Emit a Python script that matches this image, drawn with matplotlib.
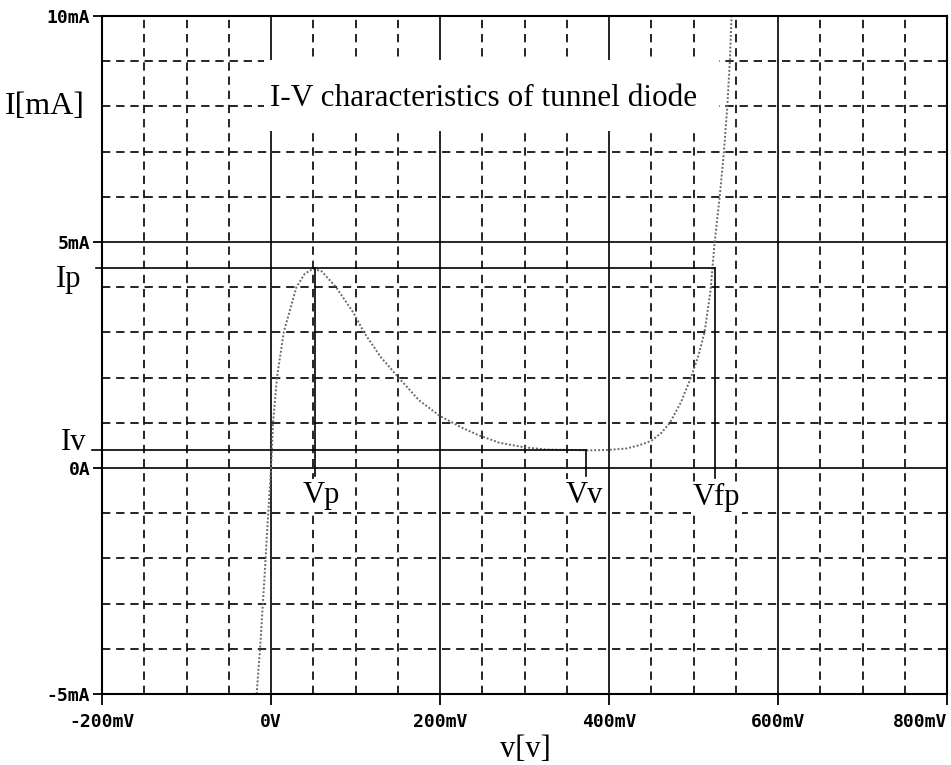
import matplotlib.pyplot as plt
from matplotlib.patches import Rectangle

# tunnel diode I-V curve (mV, mA)
curve_v = [-17, -13, -8, -4, 0, 1, 2.4, 7, 15, 30, 40, 50, 60, 77, 98, 110, 130,
           151, 175, 200, 225, 245, 270, 299, 325, 348, 375, 399, 420, 435, 450,
           462, 472, 485, 497, 506, 513, 520, 525, 531, 536, 540, 543, 545]
curve_i = [-5.0, -4.0, -2.5, -1.2, 0.0, 0.4, 1.0, 2.0, 3.0, 4.0, 4.3, 4.41, 4.35,
           4.0, 3.42, 3.0, 2.45, 2.0, 1.5, 1.15, 0.9, 0.73, 0.56, 0.46, 0.41, 0.40,
           0.39, 0.40, 0.43, 0.5, 0.6, 0.78, 1.0, 1.45, 2.0, 2.5, 3.0, 3.9, 5.0,
           6.0, 7.0, 8.0, 9.0, 10.0]

vp, ip = 52, 4.42
vv, iv = 373, 0.40
vfp = 526

x_ticks = [-200, 0, 200, 400, 600, 800]
x_labels = ["-200mV", "0V", "200mV", "400mV", "600mV", "800mV"]
y_ticks = [-5, 0, 5, 10]
y_labels = ["-5mA", "0A", "5mA", "10mA"]

fig = plt.figure(figsize=(9.51, 7.65), dpi=100)
ax = fig.add_axes([0.1073, 0.0928, 0.8885, 0.8863])
ax.set_xlim(-200, 800)
ax.set_ylim(-5, 10)

mono = {"family": "DejaVu Sans Mono", "weight": "bold", "size": 13}
serif = {"family": "Liberation Serif", "size": 22}

ax.set_xticks(x_ticks)
ax.set_xticklabels(x_labels, fontdict=mono)
ax.get_xticklabels()[-1].set_horizontalalignment("right")
ax.set_yticks(y_ticks)
ax.set_yticklabels(y_labels, fontdict=mono)
ax.set_xticks(range(-200, 801, 50), minor=True)
ax.set_yticks(range(-5, 11), minor=True)
ax.tick_params(axis="x", which="major", length=8, width=1.3, pad=6)
ax.tick_params(axis="y", which="major", length=6.5, width=1.3, pad=2)
ax.tick_params(which="minor", length=0)

ax.set_axisbelow(True)
ax.grid(which="major", color="black", lw=1.2, ls="-")
ax.grid(which="minor", color="black", lw=1.2, ls=(0, (5, 3.5)))
for s in ax.spines.values():
    s.set_linewidth(1.5)

# white box behind the title
ax.add_patch(Rectangle((-8, 7.45), 538, 1.57, fc="white", ec="none", zorder=1.5))
ax.text(252, 8.0, "I-V characteristics of tunnel diode", ha="center",
        va="baseline", fontdict={"family": "Liberation Serif", "size": 22.5}, zorder=3)

ax.plot(curve_v, curve_i, color="#6a6a6a", lw=1.4, ls=(0, (1, 1)), zorder=2)

# marker lines
ax.plot([-207, vfp], [ip, ip], color="black", lw=1.2, clip_on=False, zorder=2)
ax.plot([vp, vp], [ip, -0.18], color="black", lw=1.2, zorder=2)
ax.plot([vfp, vfp], [ip, -0.22], color="black", lw=1.2, zorder=2)
ax.plot([-212, vv], [iv, iv], color="black", lw=1.2, clip_on=False, zorder=2)
ax.plot([vv, vv], [iv, -0.18], color="black", lw=1.2, zorder=2)

wb = dict(fc="white", ec="none", pad=1)
ax.text(59, -0.77, "Vp", ha="center", va="baseline", fontdict=serif, bbox=wb, zorder=3)
ax.text(371, -0.77, "Vv", ha="center", va="baseline", fontdict=serif, bbox=wb, zorder=3)
ax.text(527, -0.82, "Vfp", ha="center", va="baseline", fontdict=serif, bbox=wb, zorder=3)
ax.text(-240, 4.0, "Ip", ha="center", va="baseline", fontdict=serif, clip_on=False)
ax.text(-234, 0.40, "Iv", ha="center", va="baseline", fontdict=serif, clip_on=False)

fig.text(0.047, 0.861, "I[mA]", ha="center", va="center",
         fontdict={"family": "Liberation Serif", "size": 23})
fig.text(0.552, 0.0105, "v[v]", ha="center", va="baseline", fontdict=serif)

fig.savefig("out.png", dpi=100)
